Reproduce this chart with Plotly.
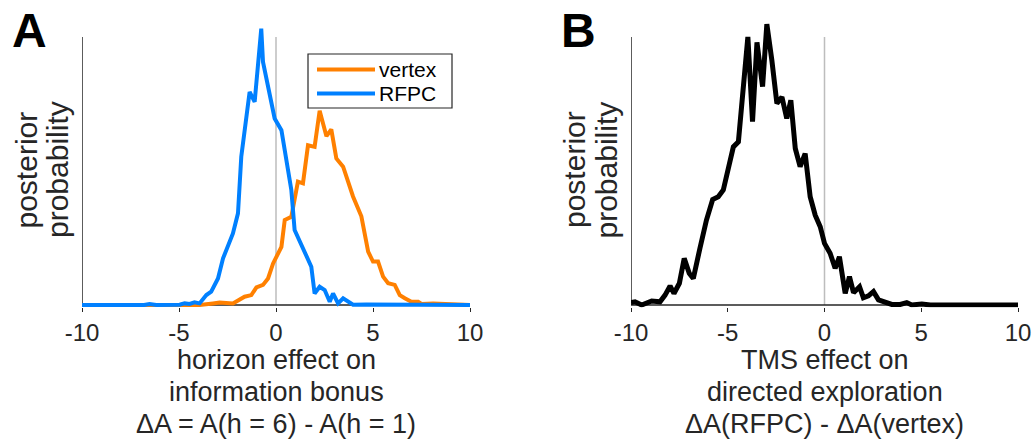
import plotly.graph_objects as go

# ---------------- data ----------------
vertex_x = [-10, -6, -3.94, -3.25, -2.91, -2.22, -1.87, -1.62, -1.27, -1.01, -0.67, -0.41, -0.15,
            0.28, 0.45, 0.79, 1.13, 1.39, 1.65, 1.99, 2.25, 2.60, 2.85, 3.11, 3.46, 3.97, 4.40,
            4.75, 5.00, 5.26, 5.52, 5.78, 6.12, 6.38, 6.64, 6.98, 7.33, 7.50, 8.1, 8.96, 10]
vertex_y = [0, 0, 0, 0.006, 0.009, 0.006, 0.021, 0.031, 0.037, 0.066, 0.075, 0.099, 0.155,
            0.217, 0.317, 0.329, 0.460, 0.454, 0.596, 0.590, 0.725, 0.630, 0.655, 0.547, 0.516,
            0.405, 0.331, 0.199, 0.162, 0.162, 0.106, 0.081, 0.075, 0.037, 0.025, 0.012, 0.012,
            0.004, 0.006, 0.002, 0]

rfpc_x = [-10, -6.8, -6.52, -6.17, -4.97, -4.71, -4.45, -4.2, -3.94, -3.59, -3.34, -2.99, -2.73,
          -2.22, -1.96, -1.79, -1.36, -1.10, -0.76, -0.67, -0.07, 0.28, 0.79, 0.96, 1.82, 1.99,
          2.25, 2.51, 2.77, 2.94, 3.2, 3.46, 3.97, 4.66, 10]
rfpc_y = [0, 0, 0.004, 0, 0.001, 0.006, 0.004, 0.01, 0.006, 0.037, 0.05, 0.099, 0.174,
          0.267, 0.342, 0.553, 0.795, 0.758, 1.031, 0.907, 0.696, 0.652, 0.429, 0.280, 0.143,
          0.043, 0.068, 0.056, 0.012, 0.043, 0.006, 0.025, 0.001, 0.002, 0]

diff_x = [-10, -9.79, -9.45, -8.93, -8.5, -8.24, -7.98, -7.78, -7.5, -7.25, -6.99, -6.78, -6.44,
          -6.1, -5.78, -5.49, -5.23, -4.97, -4.71, -4.45, -4.22, -3.96, -3.72, -3.49, -3.2,
          -2.98, -2.72, -2.46, -2.2, -1.95, -1.74, -1.51, -1.26, -1.0, -0.74, -0.48, -0.22, 0,
          0.29, 0.55, 0.77, 1.07, 1.29, 1.5, 1.81, 2.01, 2.27, 2.53, 2.79, 3.22, 3.48, 3.91,
          4.25, 4.51, 5.03, 5.47, 10]
diff_y = [0.009, 0.012, 0, 0.015, 0.012, 0.037, 0.071, 0.043, 0.081, 0.174, 0.118, 0.099, 0.211,
          0.317, 0.394, 0.404, 0.429, 0.516, 0.59, 0.609, 0.776, 1.0, 0.684, 0.98, 0.815,
          1.048, 0.913, 0.752, 0.776, 0.696, 0.764, 0.584, 0.516, 0.565, 0.404, 0.335, 0.292,
          0.23, 0.193, 0.137, 0.18, 0.043, 0.106, 0.046, 0.068, 0.027, 0.034, 0.05, 0.019,
          0.006, 0.002, 0.002, 0.009, 0, 0.004, 0, 0]

tick_vals = [-10, -5, 0, 5, 10]
tick_text = ["-10", "-5", "0", "5", "10"]

series_names = ["vertex", "RFPC"]
xlabel_a = ["horizon effect on", "information bonus", "ΔA = A(h = 6) - A(h = 1)"]
xlabel_b = ["TMS effect on", "directed exploration", "ΔA(RFPC) - ΔA(vertex)"]
ylabel = ["posterior", "probability"]
panel_letters = ["A", "B"]

# ---------------- styling ----------------
W, H = 1035, 439
FONT = "Liberation Sans, Arial, Helvetica, sans-serif"
AX = "#262626"
ORANGE = "rgb(255,128,0)"
BLUE = "rgb(0,128,255)"

def px_x(p):
    return p / W

def px_y(p):
    return (H - p) / H

Y_RANGE = [-0.008, 1.063]
base_px, unit_px = 305, 268
y_bot = base_px - Y_RANGE[0] * unit_px
y_top = base_px - Y_RANGE[1] * unit_px
ydom = [px_y(y_bot), px_y(y_top)]

fig = go.Figure()
fig.add_trace(go.Scatter(x=vertex_x, y=vertex_y, mode="lines", name=series_names[0],
                         line=dict(color=ORANGE, width=4), xaxis="x", yaxis="y"))
fig.add_trace(go.Scatter(x=rfpc_x, y=rfpc_y, mode="lines", name=series_names[1],
                         line=dict(color=BLUE, width=4), xaxis="x", yaxis="y"))
fig.add_trace(go.Scatter(x=diff_x, y=diff_y, mode="lines", name="TMS",
                         line=dict(color="black", width=5), xaxis="x2", yaxis="y2"))

xcommon = dict(range=[-10, 10], tickvals=tick_vals, ticktext=tick_text, ticks="outside",
               ticklen=4, tickwidth=1, tickcolor=AX, showline=False, showgrid=False,
               zeroline=False, tickfont=dict(family=FONT, size=24, color=AX),
               ticklabelstandoff=0, fixedrange=True, automargin=False)
ycommon = dict(range=Y_RANGE, domain=ydom, showticklabels=False, ticks="", showline=False,
               showgrid=False, zeroline=False, fixedrange=True, automargin=False)

fig.update_layout(
    width=W, height=H, autosize=False,
    margin=dict(l=0, r=0, t=0, b=0, pad=0),
    paper_bgcolor="white", plot_bgcolor="white",
    font=dict(family=FONT, color=AX),
    xaxis=dict(domain=[px_x(82), px_x(470)], anchor="y", **xcommon),
    yaxis=dict(anchor="x", **ycommon),
    xaxis2=dict(domain=[px_x(631), px_x(1018)], anchor="y2", **xcommon),
    yaxis2=dict(anchor="x2", **ycommon),
    showlegend=False,
)

shapes = []
for xr, yr in [("x", "y"), ("x2", "y2")]:
    shapes.append(dict(type="line", xref=xr, yref=yr, x0=0, x1=0, y0=0, y1=1.0,
                       line=dict(color="#BDBDBD", width=1.5), layer="below"))
    shapes.append(dict(type="line", xref=xr, yref=yr, x0=-10, x1=10, y0=0, y1=0,
                       line=dict(color=AX, width=1.5), layer="below"))
    shapes.append(dict(type="line", xref=xr, yref=yr, x0=-10, x1=-10, y0=0, y1=1.0,
                       line=dict(color=AX, width=1.5), layer="below"))

# legend box (panel A), drawn like the original's boxed legend
shapes.append(dict(type="rect", xref="paper", yref="paper", x0=px_x(308), x1=px_x(452),
                   y0=px_y(108), y1=px_y(54), fillcolor="white",
                   line=dict(color=AX, width=1.2), layer="above"))
ann = []
for ypix, color, name in zip([69.5, 93.5], [ORANGE, BLUE], series_names):
    shapes.append(dict(type="line", xref="paper", yref="paper", x0=px_x(317), x1=px_x(375),
                       y0=px_y(ypix), y1=px_y(ypix), line=dict(color=color, width=4),
                       layer="above"))
    ann.append(dict(xref="paper", yref="paper", x=px_x(377), y=px_y(ypix), text=name,
                    showarrow=False, xanchor="left", yanchor="middle",
                    font=dict(family=FONT, size=21, color="black")))
fig.update_layout(shapes=shapes)

# x labels, one annotation per line
for xr, lines in [("x", xlabel_a), ("x2", xlabel_b)]:
    for ypix, txt in zip([360, 392, 424], lines):
        ann.append(dict(xref=xr, yref="paper", x=0, y=px_y(ypix), text=txt, showarrow=False,
                        xanchor="center", yanchor="middle",
                        font=dict(family=FONT, size=27, color=AX)))
# y labels
for xs in [(26.5, 58), (575, 606.5)]:
    for xp, txt in zip(xs, ylabel):
        ann.append(dict(xref="paper", yref="paper", x=px_x(xp), y=px_y(170), text=txt,
                        showarrow=False, textangle=-90, xanchor="center", yanchor="middle",
                        font=dict(family=FONT, size=30, color=AX)))
# panel letters
for xp, txt in zip([29, 578], panel_letters):
    ann.append(dict(xref="paper", yref="paper", x=px_x(xp), y=px_y(30), text="<b>%s</b>" % txt,
                    showarrow=False, xanchor="center", yanchor="middle",
                    font=dict(family=FONT, size=48, color="black")))
fig.update_layout(annotations=ann)

fig.write_html("out.html")
